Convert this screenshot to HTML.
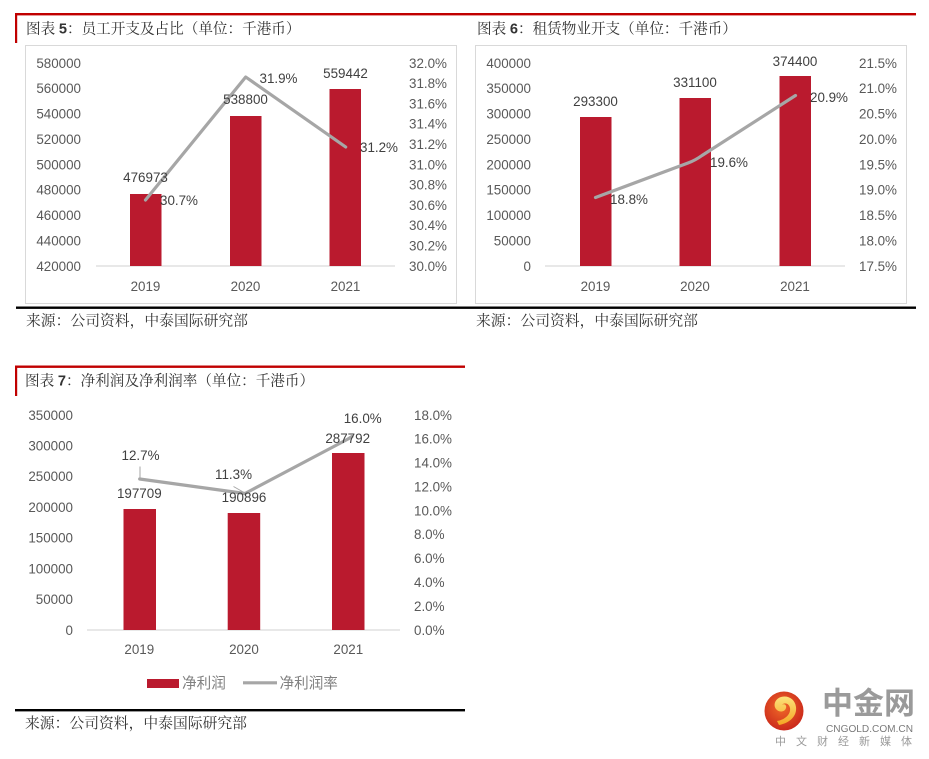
<!DOCTYPE html>
<html>
<head>
<meta charset="utf-8">
<style>
  html,body{margin:0;padding:0;background:#fff;}
  body{width:929px;height:759px;overflow:hidden;position:relative;}
  svg{position:absolute;left:0;top:0;}
  .cjk{font-family:"Liberation Sans","Noto Sans CJK SC",sans-serif;}
  .ser{font-family:"Liberation Serif","Noto Serif CJK SC",serif;}
  .num{font-family:"Liberation Sans",sans-serif;font-size:13.4px;fill:#595959;}
  .dl{font-family:"Liberation Sans",sans-serif;font-size:13.4px;fill:#404040;}
</style>
</head>
<body>
<svg width="929" height="759" viewBox="0 0 929 759" xmlns="http://www.w3.org/2000/svg">
  <defs>
    <radialGradient id="lg" cx="0.45" cy="0.4" r="0.65">
      <stop offset="0" stop-color="#F06A28"/>
      <stop offset="1" stop-color="#C8241A"/>
    </radialGradient>
    <linearGradient id="yg" x1="0" y1="0" x2="0" y2="1">
      <stop offset="0" stop-color="#FCE27A"/>
      <stop offset="1" stop-color="#F5A623"/>
    </linearGradient>
  </defs>

  <!-- ===== Top frame lines ===== -->
  <rect x="15" y="13" width="901" height="2.4" fill="#C00000"/>
  <rect x="15" y="13" width="2.2" height="30" fill="#C00000"/>
  <rect x="16" y="306.5" width="900" height="2.4" fill="#000"/>

  <!-- Titles -->
  <text class="ser" x="26" y="33.5" font-size="14.6" fill="#333">图表 <tspan font-family="Liberation Sans" font-weight="bold">5</tspan>：员工开支及占比（单位：千港币）</text>
  <text class="ser" x="477" y="33.5" font-size="14.6" fill="#333">图表 <tspan font-family="Liberation Sans" font-weight="bold">6</tspan>：租赁物业开支（单位：千港币）</text>
  <text class="ser" x="26" y="325.5" font-size="14.8" fill="#333">来源：公司资料，中泰国际研究部</text>
  <text class="ser" x="476" y="325.5" font-size="14.8" fill="#333">来源：公司资料，中泰国际研究部</text>

  <!-- ===== Chart 5 ===== -->
  <rect x="25.5" y="45.5" width="431" height="258" fill="none" stroke="#D9D9D9" stroke-width="1"/>
  <g class="num" text-anchor="end">
    <text x="81" y="67.8">580000</text>
    <text x="81" y="93.2">560000</text>
    <text x="81" y="118.6">540000</text>
    <text x="81" y="143.9">520000</text>
    <text x="81" y="169.3">500000</text>
    <text x="81" y="194.7">480000</text>
    <text x="81" y="220.1">460000</text>
    <text x="81" y="245.4">440000</text>
    <text x="81" y="270.8">420000</text>
  </g>
  <g class="num" text-anchor="start">
    <text x="409" y="67.8">32.0%</text>
    <text x="409" y="88.1">31.8%</text>
    <text x="409" y="108.4">31.6%</text>
    <text x="409" y="128.7">31.4%</text>
    <text x="409" y="149">31.2%</text>
    <text x="409" y="169.3">31.0%</text>
    <text x="409" y="189.6">30.8%</text>
    <text x="409" y="209.9">30.6%</text>
    <text x="409" y="230.2">30.4%</text>
    <text x="409" y="250.5">30.2%</text>
    <text x="409" y="270.8">30.0%</text>
  </g>
  <line x1="96" y1="266" x2="395" y2="266" stroke="#D9D9D9" stroke-width="1.2"/>
  <rect x="130" y="194" width="31.5" height="72" fill="#BA1A2E"/>
  <rect x="230" y="116" width="31.5" height="150" fill="#BA1A2E"/>
  <rect x="329.5" y="89" width="31.5" height="177" fill="#BA1A2E"/>
  <polyline points="145.5,200 245.7,77 345.7,147" fill="none" stroke="#A6A6A6" stroke-width="3.2" stroke-linejoin="round" stroke-linecap="round"/>
  <g class="dl" text-anchor="middle">
    <text x="145.5" y="181.8">476973</text>
    <text x="245.5" y="103.8">538800</text>
    <text x="345.5" y="77.8">559442</text>
  </g>
  <g class="dl" text-anchor="start">
    <text x="160" y="204.8">30.7%</text>
    <text x="259.5" y="82.8">31.9%</text>
    <text x="360" y="151.8">31.2%</text>
  </g>
  <g class="num" text-anchor="middle">
    <text x="145.5" y="290.8">2019</text>
    <text x="245.5" y="290.8">2020</text>
    <text x="345.5" y="290.8">2021</text>
  </g>

  <!-- ===== Chart 6 ===== -->
  <rect x="475.5" y="45.5" width="431" height="258" fill="none" stroke="#D9D9D9" stroke-width="1"/>
  <g class="num" text-anchor="end">
    <text x="531" y="67.8">400000</text>
    <text x="531" y="93.2">350000</text>
    <text x="531" y="118.6">300000</text>
    <text x="531" y="143.9">250000</text>
    <text x="531" y="169.3">200000</text>
    <text x="531" y="194.7">150000</text>
    <text x="531" y="220.1">100000</text>
    <text x="531" y="245.4">50000</text>
    <text x="531" y="270.8">0</text>
  </g>
  <g class="num" text-anchor="start">
    <text x="859" y="67.8">21.5%</text>
    <text x="859" y="93.2">21.0%</text>
    <text x="859" y="118.6">20.5%</text>
    <text x="859" y="143.9">20.0%</text>
    <text x="859" y="169.3">19.5%</text>
    <text x="859" y="194.7">19.0%</text>
    <text x="859" y="220.1">18.5%</text>
    <text x="859" y="245.4">18.0%</text>
    <text x="859" y="270.8">17.5%</text>
  </g>
  <line x1="545" y1="266" x2="845" y2="266" stroke="#D9D9D9" stroke-width="1.2"/>
  <rect x="580" y="117" width="31.5" height="149" fill="#BA1A2E"/>
  <rect x="679.5" y="98" width="31.5" height="168" fill="#BA1A2E"/>
  <rect x="779.5" y="76" width="31.5" height="190" fill="#BA1A2E"/>
  <path d="M595.5,197.5 L688,163 Q695,160.5 702,155.5 L795.5,95.5" fill="none" stroke="#A6A6A6" stroke-width="3.2" stroke-linejoin="round" stroke-linecap="round"/>
  <g class="dl" text-anchor="middle">
    <text x="595.5" y="105.8">293300</text>
    <text x="695" y="86.8">331100</text>
    <text x="795" y="65.8">374400</text>
  </g>
  <g class="dl" text-anchor="start">
    <text x="610" y="203.8">18.8%</text>
    <text x="710" y="166.8">19.6%</text>
    <text x="810" y="101.8">20.9%</text>
  </g>
  <g class="num" text-anchor="middle">
    <text x="595.5" y="290.8">2019</text>
    <text x="695" y="290.8">2020</text>
    <text x="795" y="290.8">2021</text>
  </g>

  <!-- ===== Chart 7 ===== -->
  <rect x="15" y="365.5" width="450" height="2.4" fill="#C00000"/>
  <rect x="15" y="365.5" width="2.2" height="30.5" fill="#C00000"/>
  <text class="ser" x="25" y="385.5" font-size="14.6" fill="#333">图表 <tspan font-family="Liberation Sans" font-weight="bold">7</tspan>：净利润及净利润率（单位：千港币）</text>
  <g class="num" text-anchor="end">
    <text x="73" y="419.8">350000</text>
    <text x="73" y="450.5">300000</text>
    <text x="73" y="481.2">250000</text>
    <text x="73" y="511.9">200000</text>
    <text x="73" y="542.7">150000</text>
    <text x="73" y="573.4">100000</text>
    <text x="73" y="604.1">50000</text>
    <text x="73" y="634.8">0</text>
  </g>
  <g class="num" text-anchor="start">
    <text x="414" y="419.8">18.0%</text>
    <text x="414" y="443.7">16.0%</text>
    <text x="414" y="467.6">14.0%</text>
    <text x="414" y="491.5">12.0%</text>
    <text x="414" y="515.4">10.0%</text>
    <text x="414" y="539.2">8.0%</text>
    <text x="414" y="563.1">6.0%</text>
    <text x="414" y="587">4.0%</text>
    <text x="414" y="610.9">2.0%</text>
    <text x="414" y="634.8">0.0%</text>
  </g>
  <line x1="87" y1="630" x2="400" y2="630" stroke="#D9D9D9" stroke-width="1.2"/>
  <rect x="123.5" y="509" width="32.5" height="121" fill="#BA1A2E"/>
  <rect x="227.7" y="513" width="32.5" height="117" fill="#BA1A2E"/>
  <rect x="332" y="453" width="32.5" height="177" fill="#BA1A2E"/>
  <!-- leader lines -->
  <line x1="140" y1="466.5" x2="140" y2="477.5" stroke="#A6A6A6" stroke-width="1"/>
  <line x1="233.5" y1="486.5" x2="244" y2="492.5" stroke="#A6A6A6" stroke-width="1"/>
  <polyline points="139.7,479 245,493.5 348,439 352,436.5" fill="none" stroke="#A6A6A6" stroke-width="3.2" stroke-linejoin="round" stroke-linecap="round"/>
  <g class="dl" text-anchor="middle">
    <text x="140.5" y="459.8">12.7%</text>
    <text x="139.3" y="498.1">197709</text>
    <text x="233.5" y="478.8">11.3%</text>
    <text x="244" y="502.1">190896</text>
    <text x="362.7" y="423.1">16.0%</text>
    <text x="347.7" y="443.1">287792</text>
  </g>
  <g class="num" text-anchor="middle">
    <text x="139.3" y="654.1">2019</text>
    <text x="244" y="654.1">2020</text>
    <text x="348.3" y="654.1">2021</text>
  </g>
  <!-- legend -->
  <rect x="147" y="679" width="32" height="9" fill="#BA1A2E"/>
  <text class="cjk" x="182" y="688" font-size="14.6" fill="#808080">净利润</text>
  <line x1="243" y1="682.8" x2="277" y2="682.8" stroke="#A6A6A6" stroke-width="3.2"/>
  <text class="cjk" x="279.5" y="688" font-size="14.6" fill="#808080">净利润率</text>

  <rect x="15" y="709" width="450" height="2.4" fill="#000"/>
  <text class="ser" x="25" y="728" font-size="14.8" fill="#333">来源：公司资料，中泰国际研究部</text>

  <!-- ===== Logo ===== -->
  <circle cx="784" cy="711" r="19.5" fill="url(#lg)"/>
  <path d="M779,725 C790,723 797,716 796,707 C795,699 788,695 781,697 C775,699 773,705 776,709 C779,713 785,712 786,708 C787,705 784,703 782,705 C784,702 789,703 790,708 C791,715 784,720 777,721 Z" fill="url(#yg)"/>
  <text x="822" y="714" font-family="'Noto Sans CJK SC','WenQuanYi Zen Hei',sans-serif" font-weight="bold" font-size="30.5" fill="#9A9A9A" textLength="93" lengthAdjust="spacingAndGlyphs">中金网</text>
  <text x="826" y="731.8" font-family="'Liberation Sans',sans-serif" font-size="10" fill="#7A7A7A" textLength="87" lengthAdjust="spacingAndGlyphs">CNGOLD.COM.CN</text>
  <text x="775" y="745" font-family="'Liberation Sans','Noto Sans CJK SC',sans-serif" font-size="11" fill="#9A9A9A" textLength="137" lengthAdjust="spacing">中文财经新媒体</text>
</svg>
</body>
</html>
